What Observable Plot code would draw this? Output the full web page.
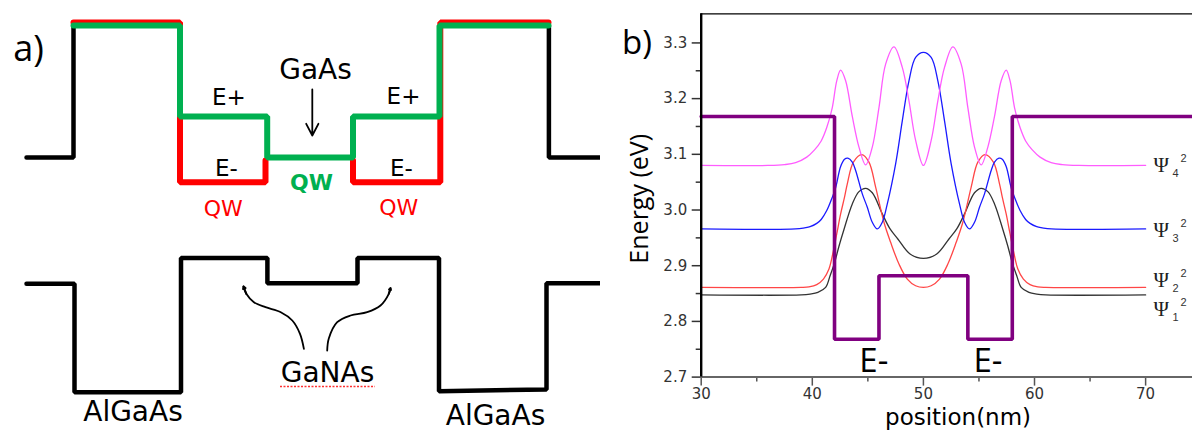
<!DOCTYPE html>
<html><head><meta charset="utf-8">
<script src="https://cdn.jsdelivr.net/npm/d3@7"></script>
<script src="https://cdn.jsdelivr.net/npm/@observablehq/plot@0.6"></script>
<style>
html,body{margin:0;padding:0;background:#fff;overflow:hidden}
#wrap{display:flex;width:1192px;height:430px}
#wrap svg{display:block}
</style></head><body><div id="wrap"><div id="pa"></div><div id="pb"></div></div>
<script>
// ================= Panel b data (position in nm, energy in eV) =================
const xTicks = [30, 40, 50, 60, 70];
const xMinorTicks = [35, 45, 55, 65];
const yTicks = [2.7, 2.8, 2.9, 3.0, 3.1, 3.2, 3.3];
const yMinorTicks = [2.75, 2.85, 2.95, 3.05, 3.15, 3.25];
const xDomain = [30, 74.22];
const yDomain = [2.7, 3.3523];

const potentialX = [30, 42, 42, 46, 46, 54, 54, 58, 58, 74.22];
const potentialE = [3.168, 3.168, 2.768, 2.768, 2.882, 2.882, 2.768, 2.768, 3.168, 3.168];

const psi1X = [30,39,39.8,40.5,41.2,41.6,42.0,42.4,42.85,43.6,44.2,44.8,45.4,46.3,47.0,47.7,48.8,50.0,51.2,52.3,53.0,53.7,54.6,55.2,55.8,56.4,57.15,57.6,58.0,58.4,58.8,59.5,60.2,61,70];
const psi1E = [2.8476,2.8476,2.849,2.852,2.861,2.882,2.905,2.935,2.965,3.011,3.033,3.039,3.031,2.993,2.966,2.948,2.921,2.913,2.921,2.948,2.966,2.993,3.031,3.039,3.033,3.011,2.965,2.935,2.905,2.882,2.861,2.852,2.849,2.8476,2.8476];

const psi2X = [30,39,39.7,40.4,41.0,41.5,41.9,42.2,42.55,42.9,43.15,43.7,44.45,45.1,45.7,46.45,47.05,47.8,48.55,49.3,50.0,50.7,51.45,52.2,52.95,53.55,54.3,54.9,55.55,56.3,56.85,57.1,57.45,57.8,58.1,58.5,59.0,59.6,60.3,61,70];
const psi2E = [2.861,2.861,2.862,2.866,2.876,2.894,2.927,2.957,2.993,3.023,3.047,3.086,3.0995,3.086,3.041,2.978,2.942,2.903,2.876,2.864,2.861,2.864,2.876,2.903,2.942,2.978,3.041,3.086,3.0995,3.086,3.047,3.023,2.993,2.957,2.927,2.894,2.876,2.866,2.862,2.861,2.861];

const psi3X = [30,38.5,39.3,39.8,40.4,40.8,41.3,41.8,42.1,42.55,42.9,43.2,43.6,43.9,44.5,44.95,45.4,45.85,46.3,46.75,47.5,48.1,48.7,49.3,50.0,50.7,51.3,51.9,52.5,53.25,53.7,54.15,54.6,55.05,55.5,56.1,56.4,56.8,57.1,57.45,57.9,58.2,58.7,59.2,59.6,60.2,60.7,61.5,70];
const psi3E = [2.966,2.966,2.968,2.970,2.976,2.983,2.999,3.023,3.040,3.078,3.091,3.093,3.086,3.071,3.029,3.005,2.978,2.966,2.978,3.011,3.083,3.160,3.232,3.274,3.283,3.274,3.232,3.160,3.083,3.011,2.978,2.966,2.978,3.005,3.029,3.071,3.086,3.093,3.091,3.078,3.040,3.023,2.999,2.983,2.976,2.970,2.968,2.966,2.966];

const psi4X = [30,36,37.5,38.5,39.5,40.2,40.8,41.3,41.8,42.2,42.55,43.0,43.6,44.2,44.8,45.4,46.0,46.6,47.35,48.1,48.7,49.3,50.0,50.7,51.3,51.9,52.65,53.4,54.0,54.6,55.2,55.8,56.4,57.0,57.45,57.8,58.2,58.7,59.2,59.8,60.5,61.5,62.5,64,70];
const psi4E = [3.080,3.080,3.0815,3.085,3.095,3.108,3.124,3.148,3.184,3.232,3.251,3.232,3.168,3.113,3.081,3.113,3.184,3.262,3.293,3.256,3.196,3.125,3.080,3.125,3.196,3.256,3.293,3.262,3.184,3.113,3.081,3.113,3.168,3.232,3.251,3.232,3.184,3.148,3.124,3.108,3.095,3.085,3.0815,3.080,3.080];

const psiLabelIndex = ["4", "3", "2", "1"];
const psiLabelE = [3.080, 2.964, 2.874, 2.822];
const psiLabelX = [70, 70, 70, 70];

const wellLabelText = ["E-", "E-"];
const wellLabelX = [45.54, 55.81];
const wellLabelE = [2.7086, 2.7086];

// ================= Panel a data (schematic layout units, y grows downward) =================
const cbLeftX = [26, 73, 73];
const cbLeftY = [157, 157, 25];
const cbRightX = [548.4, 548.4, 602];
const cbRightY = [25, 157, 157];
const vbX = [26, 74, 74, 180.5, 180.5, 266.9, 266.9, 357, 357, 438.5, 438.5, 546, 546, 602];
const vbY = [283.3, 283.3, 391.7, 391.7, 257.5, 257.5, 282.7, 282.7, 257.5, 257.5, 390.7, 389, 282.7, 282.7];
const eMinusLeftX = [73, 179.5, 179.5, 265, 265];
const eMinusLeftY = [22, 22, 181.7, 181.7, 160];
const eMinusRightX = [352.5, 352.5, 439.8, 439.8, 548];
const eMinusRightY = [160, 181.7, 181.7, 22, 22];
const ePlusX = [73, 179.5, 179.5, 266.7, 266.7, 352.5, 352.5, 439, 439, 548];
const ePlusY = [25, 25, 116, 116, 157, 157, 116, 116, 25, 25];

const gaAsArrow = {x1: 311.8, y1: 89, x2: 311.8, y2: 135};
const leftBendX = [303.4, 299.5, 291.8, 280.3, 265, 253.4, 245.8, 243];
const leftBendY = [348.3, 333.3, 320, 311.7, 306.7, 301.7, 293.3, 286];
const rightBendX = [326.7, 328.3, 336.7, 350, 366.7, 380, 388.3, 390];
const rightBendY = [350, 338, 321.7, 315, 311.7, 305, 293.3, 287.7];

const materialText = ["GaAs", "GaNAs", "AlGaAs", "AlGaAs"];
const materialX = [315, 327, 132.5, 495];
const materialY = [78, 381.7, 420.7, 424.3];
const levelText = ["E+", "E+", "E-", "E-"];
const levelX = [228.3, 403, 225.8, 401];
const levelY = [104, 103, 175, 175];
const redQwX = [222.7, 398.3];
const redQwY = [215, 214];
const greenQwX = [311];
const greenQwY = [189.3];
const squiggle = {y: 386, x1: 280, x2: 375};

const idx = a => Array.from(a, (_, i) => i);

// ---------------- Panel a ----------------
const panelA = Plot.plot({
  width: 600, height: 430, margin: 0,
  x: {domain: [0, 600], axis: null},
  y: {domain: [0, 430], reverse: true, axis: null},
  style: {background: "white", overflow: "visible"},
  marks: [
    Plot.line(idx(cbLeftX), {x: cbLeftX, y: cbLeftY, stroke: "black", strokeWidth: 4.5, strokeLinejoin: "miter"}),
    Plot.line(idx(cbRightX), {x: cbRightX, y: cbRightY, stroke: "black", strokeWidth: 4.5, strokeLinejoin: "miter"}),
    Plot.line(idx(vbX), {x: vbX, y: vbY, stroke: "black", strokeWidth: 4.5, strokeLinejoin: "miter"}),
    Plot.line(idx(eMinusLeftX), {x: eMinusLeftX, y: eMinusLeftY, stroke: "#ff0000", strokeWidth: 6, strokeLinejoin: "miter"}),
    Plot.line(idx(eMinusRightX), {x: eMinusRightX, y: eMinusRightY, stroke: "#ff0000", strokeWidth: 6, strokeLinejoin: "miter"}),
    Plot.line(idx(ePlusX), {x: ePlusX, y: ePlusY, stroke: "#00b050", strokeWidth: 6, strokeLinejoin: "miter"}),
    Plot.arrow([gaAsArrow], {x1: "x1", y1: "y1", x2: "x2", y2: "y2", stroke: "black", strokeWidth: 1.8, headLength: 11, headAngle: 55}),
    Plot.line(idx(leftBendX), {x: leftBendX, y: leftBendY, curve: "catmull-rom", stroke: "black", strokeWidth: 1.8}),
    Plot.line(idx(rightBendX), {x: rightBendX, y: rightBendY, curve: "catmull-rom", stroke: "black", strokeWidth: 1.8}),
    Plot.arrow([0], {x1: leftBendX[6], y1: leftBendY[6], x2: leftBendX[7], y2: leftBendY[7], stroke: "black", strokeWidth: 2, headLength: 10, headAngle: 60}),
    Plot.arrow([0], {x1: rightBendX[6], y1: rightBendY[6], x2: rightBendX[7], y2: rightBendY[7], stroke: "black", strokeWidth: 2, headLength: 10, headAngle: 60}),
    Plot.ruleY([squiggle.y], {x1: squiggle.x1, x2: squiggle.x2, stroke: "#ff3030", strokeWidth: 1.3, strokeDasharray: "2 1.5"}),
    Plot.text(materialText, {x: materialX, y: materialY, text: d => d, fontSize: 28, fontFamily: "DejaVu Sans", fill: "black", lineAnchor: "bottom", textAnchor: "middle"}),
    Plot.text(levelText, {x: levelX, y: levelY, text: d => d, fontSize: 23, fontFamily: "DejaVu Sans", fill: "black", lineAnchor: "bottom", textAnchor: "middle"}),
    Plot.text(redQwX, {x: redQwX, y: redQwY, text: () => "QW", fontSize: 22, fontFamily: "DejaVu Sans", fill: "#ff0000", lineAnchor: "bottom", textAnchor: "middle"}),
    Plot.text(greenQwX, {x: greenQwX, y: greenQwY, text: () => "QW", fontSize: 22, fontWeight: "bold", fontFamily: "DejaVu Sans", fill: "#00b050", lineAnchor: "bottom", textAnchor: "middle"}),
    Plot.text(["a)"], {frameAnchor: "top-left", dx: 12.7, dy: 60, text: d => d, fontSize: 36, fontFamily: "Open Sans", fill: "black", lineAnchor: "bottom", textAnchor: "start"})
  ]
});
document.getElementById("pa").appendChild(panelA);

// ---------------- Panel b ----------------
const lineOpts = {curve: "catmull-rom", strokeWidth: 1.3};
const panelB = Plot.plot({
  width: 592, height: 430,
  marginLeft: 100.7, marginRight: 0, marginTop: 13.3, marginBottom: 53.4,
  x: {domain: xDomain, axis: null},
  y: {domain: yDomain, axis: null},
  style: {background: "white", overflow: "visible", fontFamily: "DejaVu Sans"},
  marks: [
    Plot.line(idx(psi1X), {x: psi1X, y: psi1E, stroke: "#333333", ...lineOpts}),
    Plot.line(idx(psi2X), {x: psi2X, y: psi2E, stroke: "#ff4646", ...lineOpts}),
    Plot.line(idx(psi3X), {x: psi3X, y: psi3E, stroke: "#1a1aff", ...lineOpts}),
    Plot.line(idx(psi4X), {x: psi4X, y: psi4E, stroke: "#ff5cff", ...lineOpts}),
    Plot.line(idx(potentialX), {x: potentialX, y: potentialE, stroke: "#800080", strokeWidth: 3.6, strokeLinejoin: "miter"}),
    Plot.axisX({ticks: xTicks, tickSize: 9, tickPadding: 2.5, tickFormat: d => String(d), fontSize: 15, fontFamily: "DejaVu Sans", color: "#333", stroke: "#555", strokeWidth: 1.5, label: null}),
    Plot.axisX({ticks: xMinorTicks, tickSize: 5, tickFormat: () => "", stroke: "#555", strokeWidth: 1.5, label: null}),
    Plot.axisY({ticks: yTicks, tickSize: 9, tickPadding: 5, tickFormat: d => d.toFixed(1), fontSize: 15, fontFamily: "DejaVu Sans", color: "#333", stroke: "#333", strokeWidth: 1.5, label: null}),
    Plot.axisY({ticks: yMinorTicks, tickSize: 5, tickFormat: () => "", stroke: "#333", strokeWidth: 1.5, label: null}),
    Plot.ruleY([yDomain[0]], {stroke: "#666", strokeWidth: 2}),
    Plot.ruleY([yDomain[1]], {stroke: "black", strokeWidth: 1.2}),
    Plot.ruleX([xDomain[0]], {stroke: "black", strokeWidth: 2.4}),
    Plot.text(wellLabelText, {x: wellLabelX, y: wellLabelE, text: d => d, fontSize: 33, fontFamily: "Open Sans", fill: "black", lineAnchor: "bottom", textAnchor: "middle"}),
    Plot.text(psiLabelIndex, {x: psiLabelX, y: psiLabelE, text: () => "Ψ", dx: 8, fontSize: 21, fontFamily: "Liberation Serif", fill: "#222", textAnchor: "start", lineAnchor: "middle"}),
    Plot.text(psiLabelIndex, {x: psiLabelX, y: psiLabelE, text: d => d, dx: 27, dy: 8, fontSize: 11, fontFamily: "Liberation Sans", fill: "#333", textAnchor: "start", lineAnchor: "middle"}),
    Plot.text(psiLabelIndex, {x: psiLabelX, y: psiLabelE, text: () => "2", dx: 35, dy: -7, fontSize: 11, fontFamily: "Liberation Sans", fill: "#333", textAnchor: "start", lineAnchor: "middle"}),
    Plot.text(["b)"], {frameAnchor: "top-left", dx: -79.2, dy: 39.7, text: d => d, fontSize: 33, fontFamily: "Open Sans", fill: "black", lineAnchor: "bottom", textAnchor: "start"}),
    Plot.text(["Energy (eV)"], {frameAnchor: "left", dx: -53.2, dy: 3.3, rotate: -90, text: d => d, fontSize: 25, fontFamily: "Open Sans", fill: "black", lineAnchor: "bottom", textAnchor: "middle"}),
    Plot.text(["position(nm)"], {frameAnchor: "bottom", dx: 11.2, dy: 47.8, text: d => d, fontSize: 23, fontFamily: "DejaVu Sans", fill: "black", lineAnchor: "bottom", textAnchor: "middle"})
  ]
});
document.getElementById("pb").appendChild(panelB);
</script>
</body></html>
